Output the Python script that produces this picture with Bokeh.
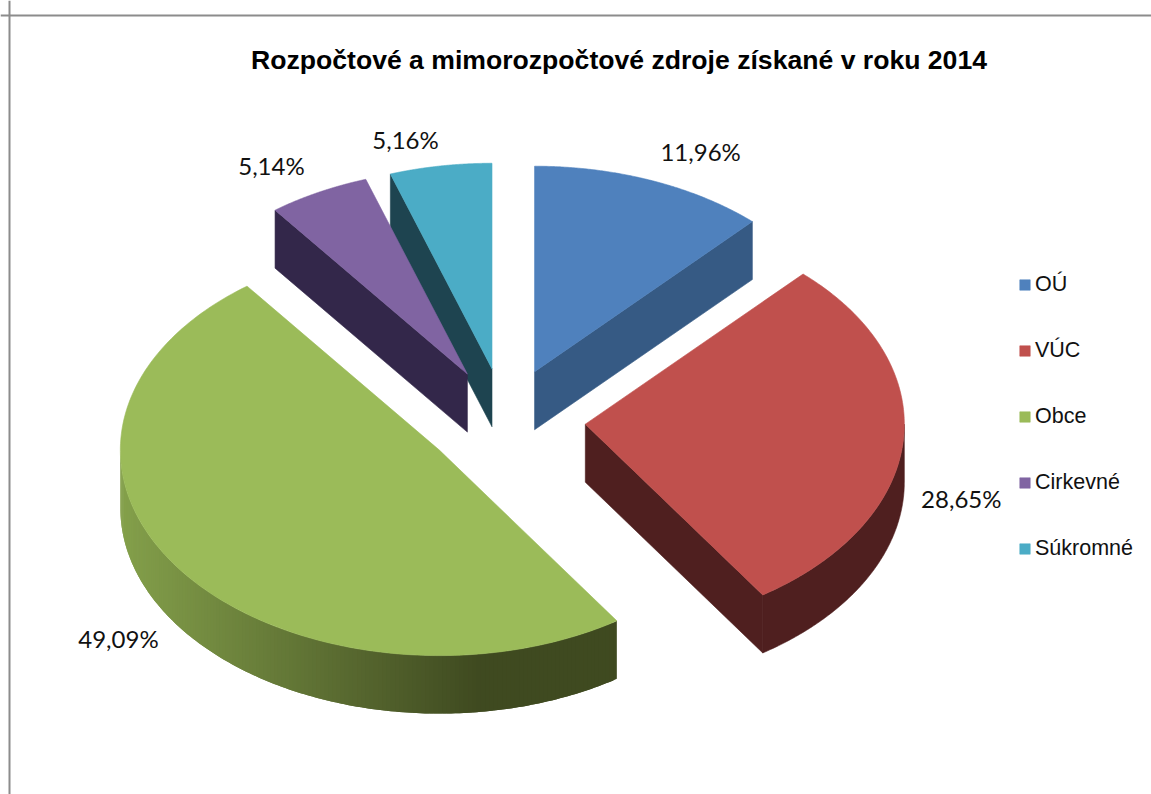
import numpy as np
from bokeh.core.properties import value
from bokeh.embed import file_html
from bokeh.models import Legend, LegendItem, Span
from bokeh.plotting import figure
from bokeh.resources import INLINE

# --- data ---
categories = ["OÚ", "VÚC", "Obce", "Cirkevné", "Súkromné"]
shares = [11.96, 28.65, 49.09, 5.14, 5.16]
share_labels = ["11,96%", "28,65%", "49,09%", "5,14%", "5,16%"]
title = "Rozpočtové a mimorozpočtové zdroje získané v roku 2014"

# --- style / layout ---
top_colors = ["#4f81bd", "#c0504d", "#9bbb59", "#8064a2", "#4bacc6"]
wall_colors = ["#365a84", "#4f1f1f", None, "#33274a", "#1e4450"]
wall_light = np.array([0x84, 0xa0, 0x4b])
wall_dark = np.array([0x3f, 0x4a, 0x20])
CX, CY, RX, RY = 504.5, 419.5, 319.0, 205.5
DEPTH, EXPLODE = 58.0, 0.2526
label_dx = [49, 58, -61, -47, -35]
label_dy = [-29, 58, 69, -27, -26]

p = figure(width=1151, height=794, x_range=(0, 1151), y_range=(794, 0),
           toolbar_location=None, output_backend="svg", min_border=0,
           outline_line_color=None, background_fill_color="white")
p.axis.visible = False
p.grid.visible = False
p.add_layout(Span(location=9, dimension="height", line_color="#8c8c8c", line_width=2))
p.add_layout(Span(location=15, dimension="width", line_color="#8c8c8c", line_width=2))


def rim(t, ax, ay):
    return ax + RX * np.sin(t), ay - RY * np.cos(t)


def hexcol(rgb):
    return "#%02x%02x%02x" % tuple(int(round(c)) for c in rgb)


edges = np.radians(np.concatenate([[0], np.cumsum(shares)]) * 360 / sum(shares))
top_renderers = {}
for i in reversed(range(len(shares))):
    t0, t1 = edges[i], edges[i + 1]
    mid = (t0 + t1) / 2
    ax = CX + EXPLODE * RX * np.sin(mid)
    ay = CY - EXPLODE * RY * np.cos(mid)

    # radial cut faces turned towards the viewer
    for phi, show in ((t0, np.sin(t0) < -1e-6), (t1, np.sin(t1) > 1e-6)):
        if show:
            ex, ey = rim(phi, ax, ay)
            color = wall_colors[i] or hexcol(wall_dark)
            p.patch([ax, ex, ex, ax], [ay, ey, ey + DEPTH, ay + DEPTH],
                    fill_color=color, line_color=color, line_width=0.6)

    # outer wall: the part of the rim in the front half of the ellipse
    w0, w1 = max(t0, np.pi / 2), min(t1, 3 * np.pi / 2)
    if w1 > w0:
        tt = np.linspace(w0, w1, 161)
        xs, ys = rim(tt, ax, ay)
        if wall_colors[i]:
            p.patch(np.r_[xs, xs[::-1]], np.r_[ys, ys[::-1] + DEPTH],
                    fill_color=wall_colors[i], line_color=wall_colors[i], line_width=0.6)
        else:
            # horizontal shading: each strip overlaps the next so that no seams show
            qx, qy, qc = [], [], []
            for k in range(len(tt) - 1):
                xk, yk = xs[k:k + 3], ys[k:k + 3]
                qx.append(np.r_[xk, xk[::-1]])
                qy.append(np.r_[yk, yk[::-1] + DEPTH])
                f = np.clip((xs[k] - (ax - RX)) / 360.0, 0, 1)
                qc.append(hexcol(wall_light + (wall_dark - wall_light) * f))
            p.patches(qx, qy, fill_color=qc, line_color=None)

    # top face
    tt = np.linspace(t0, t1, 160)
    xs, ys = rim(tt, ax, ay)
    top_renderers[i] = p.patch(np.r_[ax, xs], np.r_[ay, ys], fill_color=top_colors[i],
                               line_color=top_colors[i], line_width=0.6)

# value labels, placed relative to each slice's rim midpoint
mids = (edges[:-1] + edges[1:]) / 2
lx = CX + (1 + EXPLODE) * RX * np.sin(mids) + np.array(label_dx)
ly = CY - (1 + EXPLODE) * RY * np.cos(mids) + np.array(label_dy)
p.text(lx, ly, text=share_labels, text_font=value("Lato"), text_font_size="24px",
       text_color="#111111", text_align="center", text_baseline="middle")

# title
p.text([618.5], [59], text=[title], text_font=value("Liberation Sans"), text_font_size="26.6px",
       text_font_style="bold", text_color="#000000", text_align="center", text_baseline="middle")

legend = Legend(
    items=[LegendItem(label=c, renderers=[top_renderers[i]]) for i, c in enumerate(categories)],
    location=(1018, 233), orientation="vertical",
    glyph_width=13, glyph_height=13, label_height=24, spacing=41, padding=0, margin=0,
    label_standoff=4, border_line_color=None, background_fill_alpha=0,
    label_text_font="Liberation Sans", label_text_font_size="21.5px", label_text_color="#111111",
)
p.add_layout(legend, "center")

open("out.html", "w").write(file_html(p, INLINE))
